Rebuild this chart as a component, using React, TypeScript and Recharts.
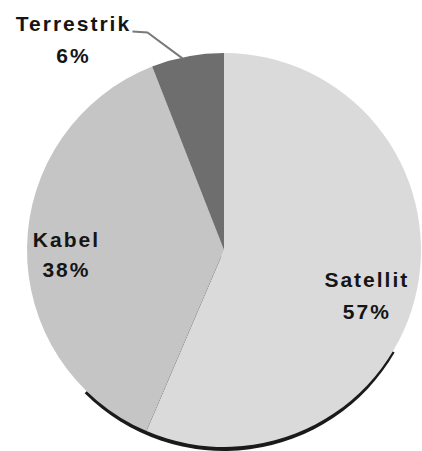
import React from "react";
import { PieChart, Pie, Cell } from "recharts";

const categories = ["Satellit", "Kabel", "Terrestrik"];
const shares = [57, 38, 6];
const colors = ["#dadada", "#c5c5c5", "#6e6e6e"];

const data = categories.map((name, i) => ({ name, value: shares[i] }));
const shadowData = [{ name: "shadow", value: 1 }];

const RAD = Math.PI / 180;
const FONT = "'Liberation Sans', Arial, sans-serif";

const renderLabel = (props: any) => {
  const { cx, cy, midAngle, outerRadius, index, name, value } = props;
  const textProps = {
    fontFamily: FONT,
    fontWeight: 700,
    fontSize: 21,
    letterSpacing: 2,
    fill: "#151515",
    textAnchor: "middle" as const,
  };
  if (index === 2) {
    const px = cx + outerRadius * Math.cos(-midAngle * RAD) - 5;
    const py = cy + outerRadius * Math.sin(-midAngle * RAD) + 2;
    const p1x = px - 35;
    const p1y = py - 26;
    const p2x = p1x - 15;
    const tx = px - 109;
    return (
      <g>
        <polyline
          points={`${px},${py} ${p1x},${p1y} ${p2x},${p1y - 1}`}
          fill="none"
          stroke="#7a7a7a"
          strokeWidth={2}
        />
        <text x={tx} y={p1y - 1} {...textProps}>{name}</text>
        <text x={tx} y={p1y + 31} {...textProps}>{`${value}%`}</text>
      </g>
    );
  }
  const factor = index === 0 ? 0.74 : 0.8;
  const x = cx + outerRadius * factor * Math.cos(-midAngle * RAD);
  const y = cy + outerRadius * factor * Math.sin(-midAngle * RAD);
  const dy = index === 0 ? 17 : 8;
  const gap = index === 0 ? 32 : 30;
  return (
    <g>
      <text x={x} y={y + dy - 9} {...textProps}>{name}</text>
      <text x={x} y={y + dy - 9 + gap} {...textProps}>{`${value}%`}</text>
    </g>
  );
};

export default function App() {
  return (
    <div style={{ position: "absolute", left: 0, top: 0, width: 422, height: 451, background: "#fff" }}>
      <PieChart width={422} height={451} margin={{ top: 0, right: 0, bottom: 0, left: 0 }}>
        <Pie
          data={shadowData}
          dataKey="value"
          cx={224}
          cy={254}
          outerRadius={197}
          startAngle={-30}
          endAngle={-135}
          stroke="none"
          fill="#1a1a1a"
          isAnimationActive={false}
        />
        <Pie
          data={data}
          dataKey="value"
          nameKey="name"
          cx={224}
          cy={250}
          outerRadius={197}
          startAngle={90}
          endAngle={-270}
          stroke="none"
          label={renderLabel}
          labelLine={false}
          isAnimationActive={false}
        >
          {data.map((d, i) => (
            <Cell key={d.name} fill={colors[i]} />
          ))}
        </Pie>
      </PieChart>
    </div>
  );
}
